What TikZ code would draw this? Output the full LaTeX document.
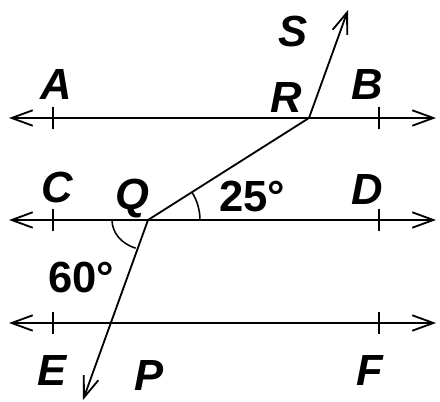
\documentclass[tikz,border=0pt]{standalone}
\usepackage{fontspec}
\setmainfont{Liberation Sans}
\usetikzlibrary{arrows.meta,calc}
\newcommand{\TransversalFont}{\fontsize{31pt}{36pt}\selectfont\bfseries}
\tikzset{
  geoline/.style={draw=black, line width=1.3pt},
  bothways/.style={
    geoline, {Straight Barb[length=15pt,width=11pt]}-{Straight Barb[length=15pt,width=11pt]}
  },
  oneway/.style={geoline, -{Straight Barb[length=15pt,width=11pt]}},
  tickmark/.style={draw=black, line width=1.1pt},
  anglearc/.style={draw=black, line width=1.1pt},
  pointlabel/.style={font=\TransversalFont\itshape, anchor=base, inner sep=0pt},
  anglelabel/.style={font=\TransversalFont, anchor=base, inner sep=0pt}
}

\begin{document}
\begin{tikzpicture}[x=0.025cm, y=0.025cm]
  \useasboundingbox (0,0) rectangle (440,401);
  % the three parallel lines
  \foreach \name/\yy in {AB/283, CD/181, EF/78}{
    \coordinate (\name west) at (9,\yy);
    \coordinate (\name east) at (436,\yy);
    \draw[bothways] (\name west) -- (\name east);
    \draw[tickmark] (53,\yy-11) -- (53,\yy+11);
    \draw[tickmark] (379,\yy-11) -- (379,\yy+11);
  }
  % transversal pieces
  \coordinate (R) at (309,283);
  \coordinate (Q) at (148,181);
  \coordinate (S tip) at (348,391);
  \coordinate (P tip) at (83,1);
  \draw[oneway] (R) -- (S tip);
  \draw[geoline] (Q) -- (R);
  \draw[oneway] (Q) -- (P tip);
  % angle marks
  \draw[anglearc] ($(Q)+(52,0)$) arc[start angle=0, end angle=32.4, radius=52];
  \draw[anglearc] ($(Q)+(-36,0)$) arc[start angle=180, end angle=250, x radius=36, y radius=30];
  % labels
  \node[pointlabel] (A) at (56,301) {A};
  \node[pointlabel] (B) at (367,301) {B};
  \node[pointlabel] (R label) at (286,288) {R};
  \node[pointlabel] (S) at (293,354) {S};
  \node[pointlabel] (C) at (57,198) {C};
  \node[pointlabel] (Q label) at (132,191) {Q};
  \node[pointlabel] (D) at (367,196) {D};
  \node[pointlabel] (E) at (52,16) {E};
  \node[pointlabel] (P) at (149,11) {P};
  \node[pointlabel] (F) at (370,16) {F};
  \node[anglelabel] (angle RQD) at (252,189) {25°};
  \node[anglelabel] (angle CQP) at (81,108) {60°};
\end{tikzpicture}
\end{document}
